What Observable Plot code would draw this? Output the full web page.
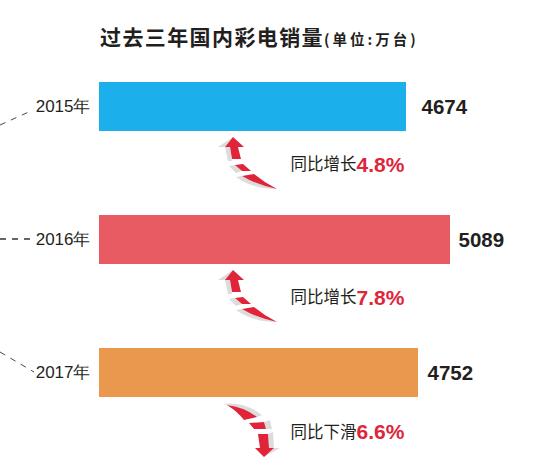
<!DOCTYPE html>
<html><head><meta charset="utf-8">
<script src="https://cdn.jsdelivr.net/npm/d3@7"></script>
<script src="https://cdn.jsdelivr.net/npm/@observablehq/plot@0.6"></script>
<style>
html,body{margin:0;padding:0;background:#fff;overflow:hidden}
#t{height:60px;box-sizing:border-box;padding:23px 0 0 100px;font-family:"Noto Sans CJK SC",sans-serif;color:#231f20;white-space:nowrap;line-height:26px}
#t b{font-size:21px;font-weight:700;letter-spacing:1.4px}
#t span{font-size:14.5px;font-weight:700;letter-spacing:3px}
svg{display:block}
</style></head><body>
<div id="t"><b>过去三年国内彩电销量</b><span>(单位:万台)</span></div>
<div id="c"></div>
<script>
const years = ["2015年", "2016年", "2017年"];
const sales = [4674, 5089, 4752];
const barColors = ["#1bb0ec", "#e85b62", "#ea984e"];
const changeWords = ["同比增长", "同比增长", "同比下滑"];
const changePct = ["4.8%", "7.8%", "6.6%"];
const rising = [true, true, false];

const rows = years.map((year, i) => ({year, value: sales[i], color: barColors[i], word: changeWords[i], pct: changePct[i], up: rising[i], i}));
const INK = "#231f20", RED = "#e0243a", SHADE = "#dcdcdc";
const CJK = '"Noto Sans CJK SC",sans-serif', LATIN = '"Liberation Sans",Arial,sans-serif';
const valueDx = [15, 8, 9];
const changeDy = [58, 58, 59.5];

const upRed = ["M0,0L11,10L5,10L8,22L-1,22L-3,10L-8,10Z", "M2,28L10,27L18,34L9,34Z", "M9,39L21,37Q32,46 44,52Q24,48 9,39Z"];
const upGrey = ["M0,0L-8,10L-15,10Z", "M-3,10L-8,10L-5,24L-1,24Z", "M-4,29L2,28L9,34L3,36Z", "M3,40L9,39Q24,48 44,52Q20,52 3,40Z"];
const downRed = ["M0,0L-9,-9L-4,-9L-6,-23L4,-23L5,-9L10,-9Z", "M-15,-34L0,-35L2,-28L-10,-28Z", "M-37,-52Q-20,-50 -7,-40L-20,-37Q-26,-45 -37,-52Z"];
const downGrey = ["M0,0L10,-9L16,-9Z", "M4,-23L5,-9L10,-9L9,-25Z", "M0,-35L6,-37L8,-28L2,-28Z", "M-42,-53Q-20,-56 -2,-42L-7,-40Q-20,-50 -42,-53Z"];
const leaders = ["M0,43L31,29", "M0,24L31,24", "M0,4L34,24"];

function glyphs(index, scales) {
  const g = d3.create("svg:g");
  const x0 = scales.x(0), bw = 49;
  rows.forEach(r => {
    const top = scales.y(r.year);
    g.append("path").attr("d", leaders[r.i]).attr("transform", `translate(0,${top})`)
      .attr("fill", "none").attr("stroke", "#333").attr("stroke-width", r.i === 1 ? 1.3 : 0.9).attr("stroke-dasharray", "6 6");
    const ax = x0 + (r.up ? 134 : 165), ay = top + bw + (r.up ? 6 : 60);
    const a = g.append("g").attr("transform", `translate(${ax},${ay})`);
    (r.up ? upGrey : downGrey).forEach(d => a.append("path").attr("d", d).attr("fill", SHADE));
    (r.up ? upRed : downRed).forEach(d => a.append("path").attr("d", d).attr("fill", RED));
  });
  return g.node();
}

const marks = [
  Plot.barX(rows, {x1: 0, x2: "value", y: "year", fill: d => d.color}),
  Plot.text(rows, {x: 0, y: "year", text: "year", dx: -9, textAnchor: "end", fontSize: 17, fill: INK, fontFamily: LATIN}),
  ...rows.map((r, i) => Plot.text([r], {x: "value", y: "year", text: d => String(d.value), dx: valueDx[i], textAnchor: "start", fontSize: 20.5, fontWeight: 700, fill: INK, fontFamily: LATIN})),
  ...rows.map((r, i) => Plot.text([r], {frameAnchor: "left", dx: 290, y: "year", dy: changeDy[i], text: "word", textAnchor: "start", fontSize: 16.5, fill: INK, fontFamily: CJK})),
  ...rows.map((r, i) => Plot.text([r], {frameAnchor: "left", dx: 356, y: "year", dy: changeDy[i], text: "pct", textAnchor: "start", fontSize: 21, fontWeight: 700, fill: RED, fontFamily: LATIN})),
  glyphs
];

const chart = Plot.plot({
  width: 533, height: 407,
  marginLeft: 0, marginRight: 0, marginTop: 0, marginBottom: 0,
  style: {background: "#fff"},
  x: {type: "linear", domain: [0, 4674, 4752, 5089], range: [99, 406, 418, 450], axis: null},
  y: {type: "band", domain: years, range: [22, 338], paddingInner: 0.63, paddingOuter: 0, axis: null},
  color: {type: "identity"},
  marks
});
document.getElementById("c").appendChild(chart);
</script>
</body></html>
